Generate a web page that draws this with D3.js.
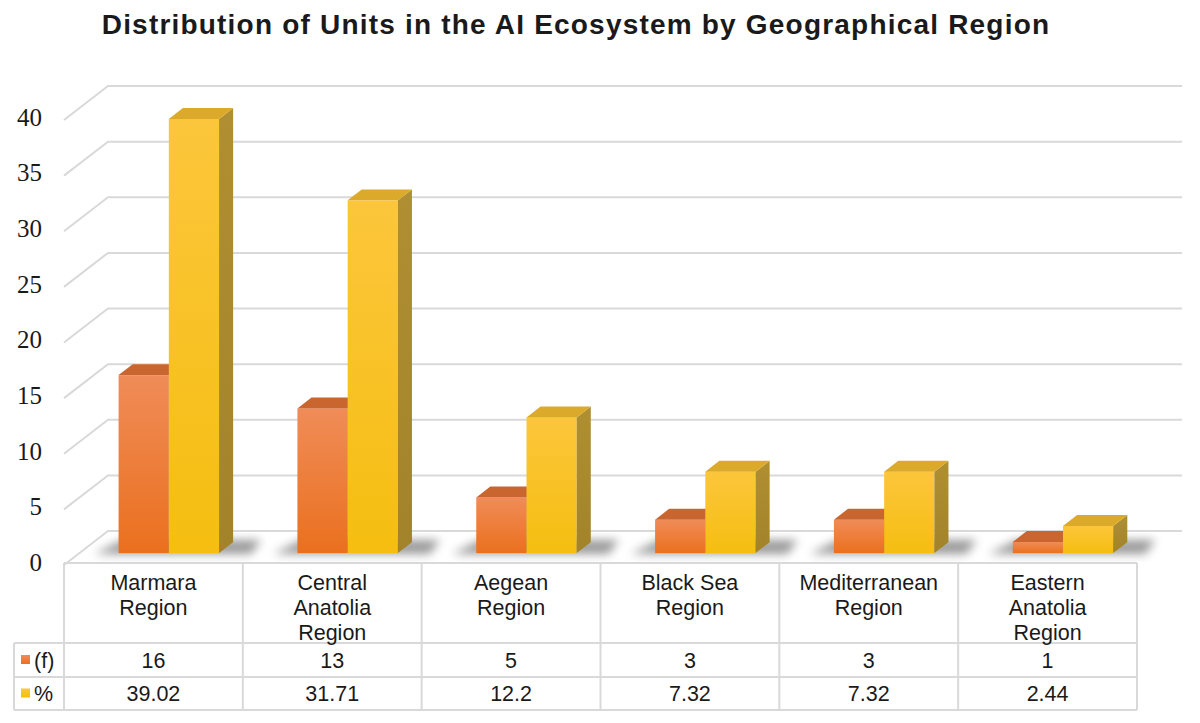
<!DOCTYPE html>
<html>
<head>
<meta charset="utf-8">
<script src="https://cdn.jsdelivr.net/npm/d3@7"></script>
<style>
  body { margin: 0; background: #fff; }
  #chart { width: 1200px; height: 723px; }
</style>
</head>
<body>
<div id="chart"></div>
<script>

// data
var categories = ["Marmara\nRegion", "Central\nAnatolia\nRegion", "Aegean\nRegion",
                  "Black Sea\nRegion", "Mediterranean\nRegion", "Eastern\nAnatolia\nRegion"];
var seriesNames = ["(f)", "%"];
var freqValues = [16, 13, 5, 3, 3, 1];
var pctValues = [39.02, 31.71, 12.2, 7.32, 7.32, 2.44];
var pctLabels = ["39.02", "31.71", "12.2", "7.32", "7.32", "2.44"];
var yTicks = [0, 5, 10, 15, 20, 25, 30, 35, 40];

var width = 1200, height = 723;

var svg = d3.select("#chart")
    .append("svg")
    .attr("width", width)
    .attr("height", height);

var defs = svg.append("defs");

function vGrad(id, c1, c2) {
    var g = defs.append("linearGradient").attr("id", id)
        .attr("x1", 0).attr("y1", 0).attr("x2", 0).attr("y2", 1);
    g.append("stop").attr("offset", "0%").attr("stop-color", c1);
    g.append("stop").attr("offset", "100%").attr("stop-color", c2);
}
vGrad("orangeFront", "#f08c58", "#ea701e");
vGrad("yellowFront", "#fcc63c", "#f5be10");
vGrad("orangeSide", "#b45a28", "#a64e1c");
vGrad("yellowSide", "#b08f32", "#a2832a");

defs.append("filter").attr("id", "blur")
    .attr("x", "-50%").attr("y", "-50%").attr("width", "200%").attr("height", "200%")
    .append("feGaussianBlur").attr("stdDeviation", 5);

// plot geometry
var left = 64, right = 1137;
var floorY = 565;
var depthX = 44, depthY = -34;     // floor depth (front to back wall)
var barPlane = 0.35;                // bars front face depth fraction
var barDepth = 0.32;

var x = d3.scaleBand()
    .domain(categories)
    .range([left, right]);

var xs = d3.scaleBand()
    .domain(seriesNames)
    .range([0, x.bandwidth()])
    .paddingOuter(0.78)
    .paddingInner(0);

var h = d3.scaleLinear()
    .domain([0, 40])
    .range([0, 445]);

// title
svg.append("text")
    .attr("x", 576)
    .attr("y", 34)
    .attr("text-anchor", "middle")
    .attr("font-family", "Liberation Sans, Arial, sans-serif")
    .attr("font-weight", "700")
    .attr("font-size", "28px")
    .attr("letter-spacing", "1.2px")
    .attr("fill", "#1a1a1a")
    .text("Distribution of Units in the AI Ecosystem by Geographical Region");

// gridlines: diagonal on the left wall + line along the back wall
var grid = svg.append("g");
yTicks.forEach(function(t) {
    var yf = floorY - h(t);
    grid.append("path")
        .attr("d", "M" + left + "," + yf + "L" + (left + depthX) + "," + (yf + depthY) +
                   "L" + (right + depthX + 1) + "," + (yf + depthY))
        .attr("fill", "none")
        .attr("stroke", "#d9d9d9")
        .attr("stroke-width", 2);
});

// y tick labels
svg.append("g").selectAll("text")
    .data(yTicks)
    .enter()
    .append("text")
    .attr("x", 42)
    .attr("y", function(d) { return floorY - h(d) - 3; })
    .attr("dy", "0.35em")
    .attr("text-anchor", "end")
    .attr("font-family", "Liberation Serif, Times New Roman, serif")
    .attr("font-size", "25px")
    .attr("fill", "#1a1a1a")
    .text(function(d) { return d; });

// bars
var ox = barPlane * depthX, oy = barPlane * depthY;
var bdx = barDepth * depthX, bdy = barDepth * depthY;
var baseY = floorY + oy;

var bars = svg.append("g");

// shadows first
categories.forEach(function(c, i) {
    var x0 = x(c) + xs("(f)") + ox;
    var x1 = x(c) + xs("%") + xs.bandwidth() + ox;
    bars.append("path")
        .attr("d", "M" + (x0 - 24) + "," + (baseY + 1) +
                   "L" + (x1 + 32) + "," + (baseY + 1) +
                   "L" + (x1 + 42) + "," + (baseY - 13) +
                   "L" + (x0 + 4) + "," + (baseY - 13) + "Z")
        .attr("fill", "#6f6f6f")
        .attr("opacity", 0.7)
        .attr("filter", "url(#blur)");
});

function drawBar(g, x0, w, v, front, side, topColor) {
    var yTop = baseY - h(v);
    g.append("rect")
        .attr("x", x0).attr("y", yTop)
        .attr("width", w).attr("height", baseY - yTop)
        .attr("fill", "url(#" + front + ")");
    g.append("path")
        .attr("d", "M" + (x0 + w) + "," + baseY +
                   "L" + (x0 + w + bdx) + "," + (baseY + bdy) +
                   "L" + (x0 + w + bdx) + "," + (yTop + bdy) +
                   "L" + (x0 + w) + "," + yTop + "Z")
        .attr("fill", "url(#" + side + ")");
    g.append("path")
        .attr("d", "M" + x0 + "," + yTop +
                   "L" + (x0 + bdx) + "," + (yTop + bdy) +
                   "L" + (x0 + w + bdx) + "," + (yTop + bdy) +
                   "L" + (x0 + w) + "," + yTop + "Z")
        .attr("fill", topColor);
}

categories.forEach(function(c, i) {
    var g = bars.append("g");
    drawBar(g, x(c) + xs("(f)") + ox, xs.bandwidth(), freqValues[i],
            "orangeFront", "orangeSide", "#c9652f");
    drawBar(g, x(c) + xs("%") + ox, xs.bandwidth(), pctValues[i],
            "yellowFront", "yellowSide", "#dcaa2a");
});

// data table
var tableTop = 563, headBottom = 643, row1Bottom = 677, row2Bottom = 710;
var legendLeft = 14;
var table = svg.append("g")
    .attr("stroke", "#d9d9d9")
    .attr("stroke-width", 2)
    .attr("fill", "none");

table.append("line").attr("x1", left).attr("x2", right).attr("y1", tableTop).attr("y2", tableTop);
[headBottom, row1Bottom, row2Bottom].forEach(function(yy) {
    table.append("line").attr("x1", legendLeft).attr("x2", right).attr("y1", yy).attr("y2", yy);
});
table.append("line").attr("x1", legendLeft).attr("x2", legendLeft)
    .attr("y1", headBottom).attr("y2", row2Bottom);
categories.forEach(function(c) {
    table.append("line").attr("x1", x(c)).attr("x2", x(c))
        .attr("y1", tableTop).attr("y2", row2Bottom);
});
table.append("line").attr("x1", right).attr("x2", right)
    .attr("y1", tableTop).attr("y2", row2Bottom);

var textFont = "Liberation Sans, Arial, sans-serif";

// category labels
categories.forEach(function(c) {
    var lines = c.split("\n");
    var t = svg.append("text")
        .attr("x", x(c) + x.bandwidth() / 2)
        .attr("y", 590)
        .attr("text-anchor", "middle")
        .attr("font-family", textFont)
        .attr("font-size", "21.5px")
        .attr("fill", "#1a1a1a");
    lines.forEach(function(l, k) {
        t.append("tspan")
            .attr("x", x(c) + x.bandwidth() / 2)
            .attr("dy", k === 0 ? 0 : 25)
            .text(l);
    });
});

// value rows
var rowCenters = [(headBottom + row1Bottom) / 2, (row1Bottom + row2Bottom) / 2];
var rowValues = [freqValues.map(String), pctLabels];
var keyGrads = ["orangeFront", "yellowFront"];

rowValues.forEach(function(vals, r) {
    svg.append("g").selectAll("text")
        .data(vals)
        .enter()
        .append("text")
        .attr("x", function(d, i) { return x(categories[i]) + x.bandwidth() / 2; })
        .attr("y", rowCenters[r])
        .attr("dy", "0.36em")
        .attr("text-anchor", "middle")
        .attr("font-family", textFont)
        .attr("font-size", "21.5px")
        .attr("fill", "#1a1a1a")
        .text(function(d) { return d; });

    svg.append("rect")
        .attr("x", 21).attr("y", rowCenters[r] - 5)
        .attr("width", 9).attr("height", 9)
        .attr("fill", "url(#" + keyGrads[r] + ")");

    svg.append("text")
        .attr("x", 34)
        .attr("y", rowCenters[r])
        .attr("dy", "0.36em")
        .attr("font-family", textFont)
        .attr("font-size", "21.5px")
        .attr("fill", "#1a1a1a")
        .text(seriesNames[r]);
});

</script>
</body>
</html>
